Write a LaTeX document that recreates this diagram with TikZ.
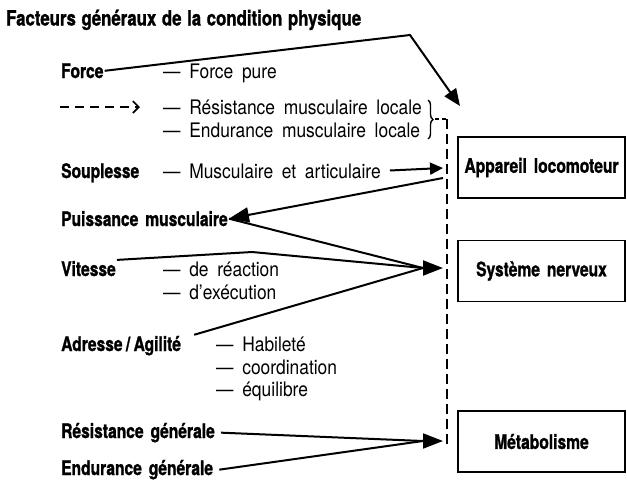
\documentclass[tikz,border=0pt]{standalone}
\usepackage{fontspec}
\setmainfont{TeX Gyre Heros}[FakeStretch=0.87, WordSpace=1.8]
\newfontfamily\boldfont{TeX Gyre Heros}[FakeStretch=0.78, WordSpace=1.6, FakeBold=1.2]
\newfontfamily\titlefont{TeX Gyre Heros}[FakeStretch=0.8, WordSpace=1.2, FakeBold=1.2]
\usetikzlibrary{arrows.meta,positioning,calc,decorations.pathreplacing}

\begin{document}
\begin{tikzpicture}[x=1pt, y=-1pt,
    lbl/.style={font=\boldfont\bfseries\fontsize{20}{22}\selectfont, inner sep=1pt, anchor=base west},
    item/.style={font=\fontsize{20}{22}\selectfont, inner sep=1pt, anchor=base west},
    box/.style={draw, line width=1.6pt, minimum width=167pt, minimum height=61pt, inner sep=0pt, font=\boldfont\bfseries\fontsize{20}{22}\selectfont},
    link/.style={line width=2pt},
    arrow/.style={line width=2pt, -{Triangle[length=20pt,width=15pt]}},
    dashvert/.style={line width=2pt, dash pattern=on 10pt off 5pt},
]
\useasboundingbox (0,0) rectangle (627,480);

% title
\node[lbl, font=\titlefont\bfseries\fontsize{21}{24}\selectfont] (title) at (5,25.5) {Facteurs généraux de la condition physique};

% left column
\node[lbl] (force) at (60,78) {Force};
\node[item] (fpure) at (162,78) {— Force pure};
\coordinate (dashA) at (60,107);
\coordinate (dashB) at (140,107);
\node[item] (resloc) at (162,114) {— Résistance musculaire locale};
\node[item] (endloc) at (162,137) {— Endurance musculaire locale};
\node[lbl] (soup) at (60,178) {Souplesse};
\node[item] (musc) at (162,178) {— Musculaire et articulaire};
\node[lbl] (puiss) at (60,226) {Puissance musculaire};
\node[lbl] (vit) at (60,276) {Vitesse};
\node[item] (react) at (162,276) {— de réaction};
\node[item] (exec) at (162,299) {— d’exécution};
\node[lbl] (adr) at (60,351) {Adresse\,/\,Agilité};
\node[item] (hab) at (215,351) {— Habileté};
\node[item] (coord) at (215,374) {— coordination};
\node[item] (equi) at (215,396) {— équilibre};
\node[lbl] (resg) at (60,438) {Résistance générale};
\node[lbl] (endg) at (60,475) {Endurance générale};

% boxes
\node[box] (app) at (541.5,167.5) {Appareil locomoteur};
\node[box] (sn) at (541.5,271) {Système nerveux};
\node[box] (met) at (541.5,441.5) {Métabolisme};

% junction points
\coordinate (bendF) at (410,35);
\coordinate (topTip) at (460,106);
\coordinate (braceTop) at (428,100);
\coordinate (braceBot) at (428,139);
\coordinate (braceTip) at (435,119);
\coordinate (dashTop) at (447,119);
\coordinate (dashBot) at (447,445);
\coordinate (inApp) at (443,168);
\coordinate (outApp) at (443,178);
\coordinate (bendV) at (252,252);
\coordinate (snBase) at (423,268);
\coordinate (inSN) at (443,268);
\coordinate (metBase) at (423,441);
\coordinate (inMet) at (443,441);

% legend arrow, brace and dashed line
\draw[line width=1.6pt, dash pattern=on 9pt off 6pt, -{Straight Barb[length=6pt,width=12pt]}] (dashA) -- (dashB);
\draw[line width=1.4pt, decorate, decoration={brace, amplitude=5pt}] (braceTop) -- (braceBot);
\draw[line width=1.6pt, dash pattern=on 4pt off 3pt] (braceTip) -- (dashTop);
\draw[dashvert] (dashTop) -- (dashBot);

% connectors
\draw[arrow, -{Triangle[length=17pt,width=14pt]}] (force.east) -- (bendF) -- (topTip);
\draw[arrow, -{Triangle[length=13pt,width=12pt]}, shorten <=8pt] (musc.east) -- (inApp);
\draw[arrow] (outApp) -- (puiss.east);
\draw[link] (puiss.east) -- (snBase);
\draw[link] (vit.north east) -- (bendV) -- (snBase);
\draw[link] ([xshift=12pt]adr.north east) -- (snBase);
\draw[arrow] (snBase) -- (inSN);
\draw[link] ([xshift=5pt]resg.east) -- (metBase);
\draw[link] ([xshift=5pt]endg.east) -- (metBase);
\draw[arrow] (metBase) -- (inMet);

\end{tikzpicture}
\end{document}
